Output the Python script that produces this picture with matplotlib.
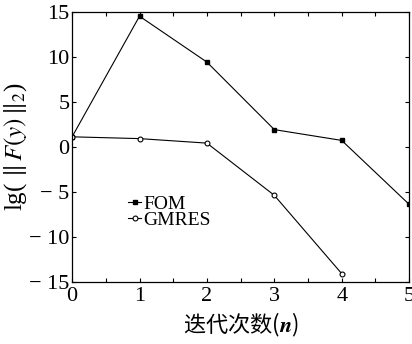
import matplotlib.pyplot as plt

plt.rcParams['font.family'] = ['Liberation Serif', 'DejaVu Serif']
plt.rcParams['mathtext.fontset'] = 'stix'

# datos de convergencia
iteraciones = [0, 1, 2, 3, 4, 5]
fom = [1.1, 14.5, 9.4, 1.9, 0.7, -6.4]
iter_gmres = [0, 1, 2, 3, 4]
gmres = [1.1, 0.9, 0.4, -5.4, -14.1]

yticks = [15, 10, 5, 0, -5, -10, -15]
ytick_labels = ['15', '10', '5', '0', '\u2212 5', '\u2212 10', '\u2212 15']

fig = plt.figure(figsize=(4.12, 3.44), dpi=100)
ax = fig.add_axes([0.175, 0.181, 0.818, 0.785])

ax.plot(iteraciones, fom, '-', color='black', lw=0.8, marker='s', ms=2.5,
        mfc='black', label='FOM')
ax.plot(iter_gmres, gmres, '-', color='black', lw=0.8, marker='o', ms=3.5,
        mfc='white', mew=0.8, label='GMRES')

ax.set_xlim(0, 5)
ax.set_ylim(-15, 15)
ax.set_xticks(iteraciones)
ax.set_xticks([0.5, 1.5, 2.5, 3.5, 4.5], minor=True)
ax.set_yticks(yticks)
ax.set_yticklabels(ytick_labels)
ax.tick_params(direction='in', labelsize=16, length=3, width=0.8, pad=2)
ax.tick_params(which='minor', direction='in', length=3, width=0.8)
ax.tick_params(axis='x', top=True, which='both', pad=4)
ax.tick_params(axis='y', right=True)
for s in ax.spines.values():
    s.set_linewidth(0.9)

ax.set_xlabel('迭代次数($\\boldsymbol{n}$)', family=['Noto Sans CJK SC', 'DejaVu Sans'],
              fontsize=16, labelpad=3)
ax.set_ylabel('lg( $\\Vert\\, F(y)\\, \\Vert_2$)', fontsize=18, labelpad=0)

ax.legend(loc='upper left', bbox_to_anchor=(0.165, 0.32), frameon=False,
          fontsize=14, handlelength=0.7, handletextpad=0.1, labelspacing=-0.1,
          borderpad=0, borderaxespad=0)

fig.savefig('out.png', dpi=100)
